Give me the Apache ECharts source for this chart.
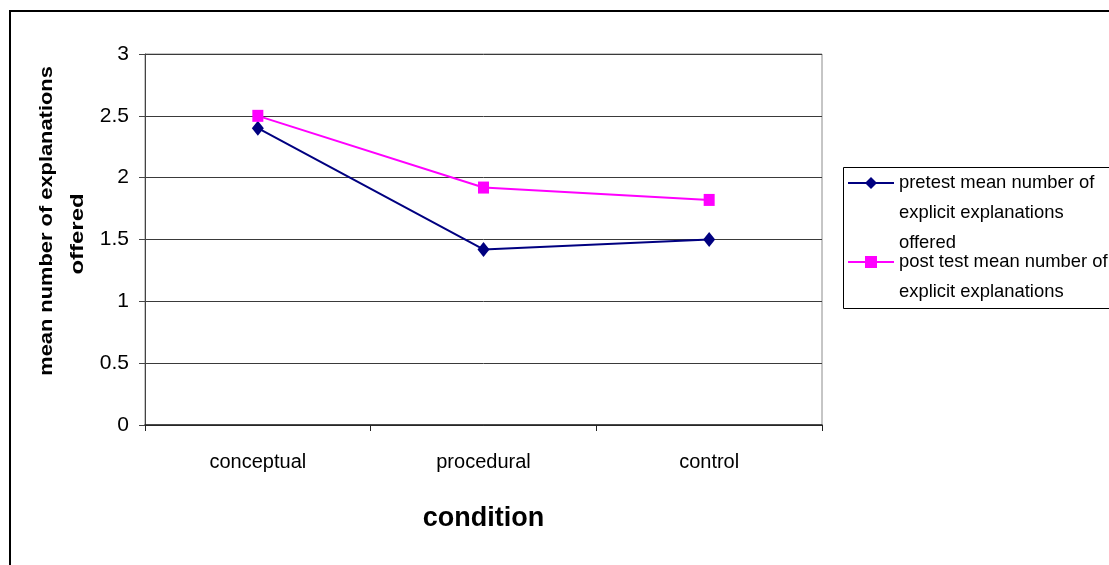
<!DOCTYPE html>
<html>
<head>
<meta charset="utf-8">
<title>mean number of explanations offered by condition</title>
<script src="https://cdn.jsdelivr.net/npm/echarts@6/dist/echarts.min.js"></script>
<style>
  html, body { margin: 0; padding: 0; background: #fff; }
  #chart { width: 1109px; height: 565px; }
</style>
</head>
<body>
<div id="chart"></div>
<script>
// Conditions along the category axis
const conditions = ['conceptual', 'procedural', 'control'];

// Series names
const pretestName = 'pretest mean number of explicit explanations offered';
const posttestName = 'post test mean number of explicit explanations offered';

// Mean number of explicit explanations offered per condition
const pretestValues = [2.4, 1.42, 1.5];
const posttestValues = [2.5, 1.92, 1.82];

// Value axis ticks
const yTicks = [0, 0.5, 1, 1.5, 2, 2.5, 3];

// Wrapped legend text (the box cuts the second entry after two lines).
// Leading blank lines keep the first text line level with the marker,
// since the legend centres each text block on its marker.
const legendLines = {};
legendLines[pretestName] = '\n\npretest mean number of\nexplicit explanations\noffered';
legendLines[posttestName] = '\npost test mean number of\nexplicit explanations';

const font = '"Liberation Sans", Arial, sans-serif';

const chart = echarts.init(document.getElementById('chart'), null, { renderer: 'canvas' });

const legendText = {
  fontFamily: font,
  fontSize: 18.4,
  lineHeight: 30,
  color: '#000'
};

const legendBase = {
  orient: 'vertical',
  left: 847,
  padding: 0,
  itemWidth: 46,
  itemHeight: 15,
  selectedMode: false,
  textStyle: legendText,
  formatter: name => legendLines[name]
};

chart.setOption({
  backgroundColor: '#fff',
  animation: false,
  grid: {
    left: 145, right: 287, top: 54, bottom: 140,
    show: true,
    borderColor: '#8c8c8c',
    borderWidth: 1,
    backgroundColor: '#fff'
  },
  legend: [
    Object.assign({ top: 108, data: [pretestName] }, legendBase),
    Object.assign({ top: 217, data: [posttestName] }, legendBase)
  ],
  xAxis: {
    type: 'category',
    data: conditions,
    boundaryGap: true,
    axisLine: { lineStyle: { color: '#222', width: 1.5 } },
    axisTick: { show: true, length: 6, lineStyle: { color: '#222' } },
    axisLabel: { fontFamily: font, fontSize: 20, color: '#000', margin: 27 },
    name: 'condition',
    nameLocation: 'middle',
    nameGap: 80,
    nameTextStyle: { fontFamily: font, fontSize: 27, fontWeight: 'bold', color: '#000' }
  },
  yAxis: {
    type: 'value',
    min: yTicks[0],
    max: yTicks[yTicks.length - 1],
    interval: yTicks[1] - yTicks[0],
    axisLine: { show: true, lineStyle: { color: '#444', width: 1 } },
    axisTick: { show: true, length: 6, lineStyle: { color: '#444' } },
    axisLabel: { fontFamily: font, fontSize: 21, color: '#000', margin: 16 },
    splitLine: { lineStyle: { color: '#3a3a3a', width: 1 } }
  },
  series: [
    {
      name: pretestName,
      type: 'line',
      data: pretestValues,
      symbol: 'diamond',
      symbolSize: [12, 15],
      itemStyle: { color: '#000080' },
      lineStyle: { color: '#000080', width: 2 }
    },
    {
      name: posttestName,
      type: 'line',
      data: posttestValues,
      symbol: 'rect',
      symbolSize: [11, 12],
      itemStyle: { color: '#ff00ff' },
      lineStyle: { color: '#ff00ff', width: 2 }
    }
  ],
  graphic: [
    // outer frame
    {
      type: 'rect', silent: true, z: 100,
      shape: { x: 10, y: 11, width: 1200, height: 700 },
      style: { fill: null, stroke: '#000', lineWidth: 2 }
    },
    // legend frame
    {
      type: 'rect', silent: true, z: 100,
      shape: { x: 843.5, y: 167.5, width: 300, height: 141 },
      style: { fill: null, stroke: '#000', lineWidth: 1 }
    },
    // value axis title, two lines
    {
      type: 'text', silent: true,
      x: 47, y: 221,
      rotation: Math.PI / 2,
      scaleX: 1.15,
      style: {
        text: 'mean number of explanations',
        font: 'bold 19px ' + font,
        fill: '#000',
        align: 'center',
        verticalAlign: 'middle'
      }
    },
    {
      type: 'text', silent: true,
      x: 78, y: 234,
      rotation: Math.PI / 2,
      scaleX: 1.26,
      style: {
        text: 'offered',
        font: 'bold 19px ' + font,
        fill: '#000',
        align: 'center',
        verticalAlign: 'middle'
      }
    }
  ]
});
</script>
</body>
</html>
